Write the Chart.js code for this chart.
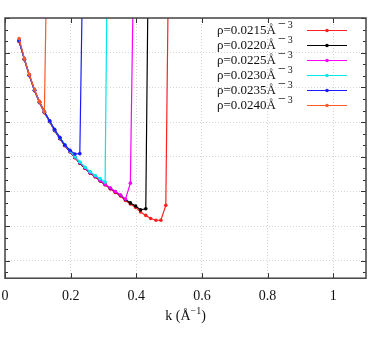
<!DOCTYPE html>
<html lang="en">
<head>
<meta charset="UTF-8">
<title>Dispersion k</title>
<style>
  html, body { margin: 0; padding: 0; background: #fff; }
</style>
</head>
<body>
<canvas id="kChart" width="368" height="341"></canvas>
<script src="https://cdn.jsdelivr.net/npm/chart.js"></script>
<script>
// k grid (Å^-1), shared by all curves
const kValues = [0.043, 0.059, 0.074, 0.090, 0.105, 0.120, 0.136, 0.151, 0.167, 0.182,
                 0.198, 0.213, 0.228, 0.244, 0.259, 0.275, 0.290, 0.305, 0.321, 0.336,
                 0.352, 0.367, 0.382, 0.398, 0.413, 0.429, 0.444, 0.460, 0.475, 0.490, 0.506];

const densities = ['0.0215', '0.0220', '0.0225', '0.0230', '0.0235', '0.0240'];
const colors = ['#ff2020', '#000000', '#ff00ff', '#00e8e8', '#1a1aff', '#ff5a28'];

// y values per density (last value of each is the jump off the top)
const rho0215 = [7.32, 6.80, 6.34, 5.90, 5.56, 5.27, 5.01, 4.75, 4.52, 4.32, 4.14, 3.97, 3.81, 3.66, 3.53,
                 3.42, 3.30, 3.19, 3.07, 2.97, 2.87, 2.74, 2.64, 2.54, 2.41, 2.31, 2.22, 2.17, 2.17, 2.60, 16.1];
const rho0220 = [7.33, 6.81, 6.35, 5.91, 5.57, 5.28, 5.02, 4.76, 4.53, 4.33, 4.15, 3.98, 3.82, 3.67, 3.54,
                 3.43, 3.31, 3.20, 3.09, 2.99, 2.89, 2.77, 2.67, 2.58, 2.47, 2.50, 16.6];
const rho0225 = [7.34, 6.82, 6.36, 5.92, 5.58, 5.29, 5.03, 4.77, 4.54, 4.34, 4.16, 3.99, 3.83, 3.68, 3.55,
                 3.44, 3.32, 3.21, 3.10, 3.00, 2.90, 2.78, 3.24, 13.6];
const rho0230 = [7.35, 6.82, 6.36, 5.92, 5.58, 5.29, 5.03, 4.78, 4.55, 4.35, 4.17, 4.00, 3.85, 3.70, 3.57,
                 3.46, 3.37, 3.27, 18.7];
const rho0235 = [7.36, 6.82, 6.36, 5.92, 5.59, 5.30, 5.04, 4.79, 4.56, 4.34, 4.19, 4.08, 4.09, 14.0];
const rho0240 = [7.41, 6.83, 6.37, 5.93, 5.59, 5.30, 14.8];

const seriesY = [rho0215, rho0220, rho0225, rho0230, rho0235, rho0240];

const xMajor = [0, 0.2, 0.4, 0.6, 0.8, 1.0];
const yMajor = [1, 2, 3, 4, 5, 6, 7, 8];

const datasets = seriesY.map((ys, i) => ({
    label: 'ρ=' + densities[i] + 'Å',
    data: ys.map((y, j) => ({ x: kValues[j], y: y })),
    borderColor: colors[i],
    backgroundColor: colors[i],
    borderWidth: 1.2,
    pointRadius: 1.8,
    pointBorderWidth: 0,
    pointHoverRadius: 1.8,
    order: 5 - i
}));

// frame with inward ticks, gnuplot style
const framePlugin = {
    id: 'frame',
    afterDraw(chart) {
        const ctx = chart.ctx;
        const a = chart.chartArea;
        const xs = chart.scales.x, ys = chart.scales.y;
        ctx.save();
        ctx.strokeStyle = '#333';
        ctx.lineWidth = 1;
        ctx.beginPath();
        xMajor.forEach(v => {
            const px = Math.round(xs.getPixelForValue(v)) + 0.5;
            ctx.moveTo(px, a.bottom); ctx.lineTo(px, a.bottom - 5);
            ctx.moveTo(px, a.top); ctx.lineTo(px, a.top + 5);
        });
        yMajor.forEach(v => {
            for (let m = 0; m < 3; m++) {
                const val = v - m / 3;
                if (val < ys.min) continue;
                const py = Math.round(ys.getPixelForValue(val)) + 0.5;
                const len = m === 0 ? 5 : 3;
                ctx.moveTo(a.left, py); ctx.lineTo(a.left + len, py);
                ctx.moveTo(a.right, py); ctx.lineTo(a.right - len, py);
            }
        });
        ctx.stroke();
        ctx.strokeStyle = '#444';
        ctx.lineWidth = 1.5;
        ctx.strokeRect(a.left, a.top, a.right - a.left, a.bottom - a.top);

        // x axis title  k (Å^-1)
        ctx.fillStyle = '#111';
        ctx.textBaseline = 'alphabetic';
        const base = 'k (Å', sup = '−1', tail = ')';
        ctx.font = '14px "Liberation Serif", serif';
        const wb = ctx.measureText(base).width, wt = ctx.measureText(tail).width;
        ctx.font = '10px "Liberation Serif", serif';
        const ws = ctx.measureText(sup).width;
        let tx = (a.left + a.right) / 2 - (wb + ws + wt) / 2;
        const ty = 320;
        ctx.font = '14px "Liberation Serif", serif';
        ctx.fillText(base, tx, ty);
        ctx.font = '10px "Liberation Serif", serif';
        ctx.fillText(sup, tx + wb, ty - 6);
        ctx.font = '14px "Liberation Serif", serif';
        ctx.fillText(tail, tx + wb + ws, ty);

        // key: text on the left, line sample on the right
        chart.data.datasets.forEach((ds, i) => {
            const cy = 30 + i * 15;
            ctx.textAlign = 'left';
            ctx.fillStyle = '#111';
            ctx.font = '13px "Liberation Serif", serif';
            ctx.fillText(ds.label, 217, cy + 4);
            const wl = ctx.measureText(ds.label).width;
            ctx.font = '14px "Liberation Serif", serif';
            ctx.fillText('−', 217 + wl + 2, cy - 2);
            const wm = ctx.measureText('−').width;
            ctx.font = '10px "Liberation Serif", serif';
            ctx.fillText('3', 217 + wl + 4 + wm, cy - 2);
            ctx.strokeStyle = ds.borderColor;
            ctx.lineWidth = 1.2;
            ctx.beginPath();
            ctx.moveTo(307, cy + 0.5); ctx.lineTo(347, cy + 0.5);
            ctx.stroke();
            ctx.fillStyle = ds.borderColor;
            ctx.beginPath();
            ctx.arc(327, cy + 0.5, 1.8, 0, Math.PI * 2);
            ctx.fill();
        });
        ctx.restore();
    }
};

new Chart(document.getElementById('kChart'), {
    type: 'line',
    data: { datasets: datasets },
    options: {
        responsive: false,
        animation: false,
        maintainAspectRatio: false,
        layout: { padding: { left: 5, right: 2, top: 18, bottom: 36 } },
        plugins: { legend: { display: false }, tooltip: { enabled: false } },
        scales: {
            x: {
                type: 'linear',
                min: 0,
                max: 1.1,
                afterBuildTicks: s => { s.ticks = xMajor.map(v => ({ value: v })); },
                grid: { color: '#d4d4d4', lineWidth: 1, drawTicks: true, tickLength: 10, tickColor: 'rgba(0,0,0,0)' },
                border: { display: false, dash: [1, 2] },
                ticks: {
                    padding: 0,
                    color: '#111',
                    font: { family: '"Liberation Serif", serif', size: 14 },
                    callback: v => String(Number(v.toFixed(2)))
                }
            },
            y: {
                min: 0.5,
                max: 8,
                afterBuildTicks: s => { s.ticks = yMajor.map(v => ({ value: v })); },
                grid: { color: '#d4d4d4', lineWidth: 1, drawTicks: false },
                border: { display: false, dash: [1, 2] },
                ticks: { display: false }
            }
        }
    },
    plugins: [framePlugin]
});
</script>
</body>
</html>
